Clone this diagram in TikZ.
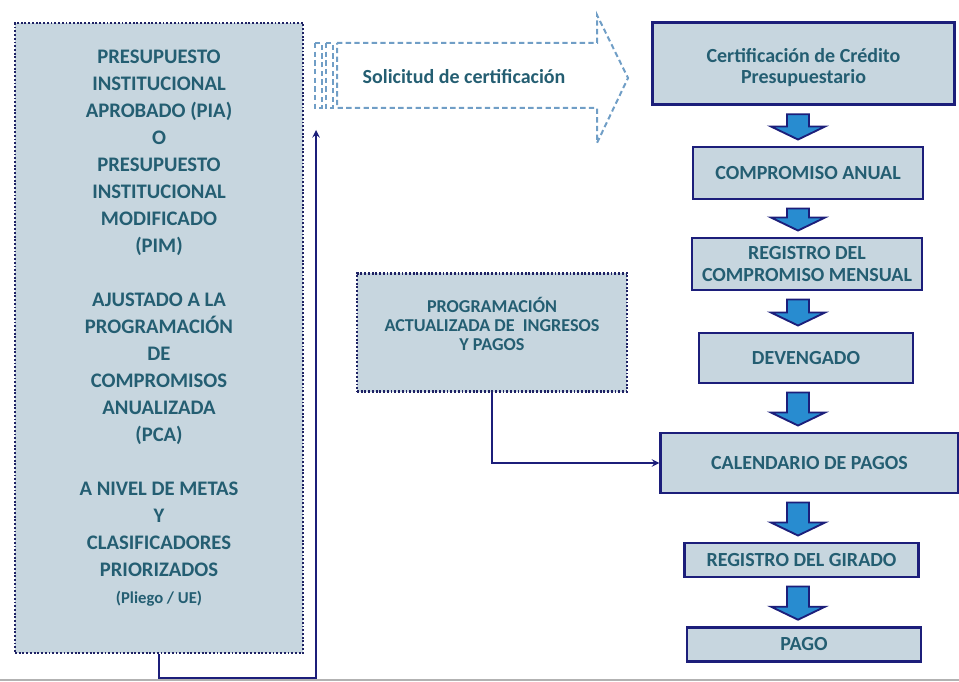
\documentclass[tikz,border=0pt]{standalone}
\usepackage{fontspec}
\setmainfont{Carlito}
\usepackage{xcolor}
\usepackage{tikz}
\usetikzlibrary{arrows,calc}
\definecolor{fondo}{RGB}{199,214,223}
\definecolor{letra}{RGB}{36,94,114}
\definecolor{marino}{RGB}{28,30,122}
\definecolor{punteado}{RGB}{30,34,100}
\definecolor{azulflecha}{RGB}{40,140,208}
\definecolor{guion}{RGB}{112,158,198}
\tikzstyle{cajapunto} = [rectangle, draw=punteado, line width=2.2pt, dash pattern=on 1.4pt off 1.4pt, fill=fondo, text=letra, align=center]
\tikzstyle{paso} = [rectangle, draw=marino, line width=2.2pt, fill=fondo, text=letra, font=\bfseries\fontsize{15}{17}\selectfont, align=center]
\tikzstyle{arrow} = [line width=1.5pt, draw=marino, ->, >=stealth]
\tikzstyle{bloque} = [draw=marino, line width=1.4pt, fill=azulflecha, line join=miter]
\tikzstyle{solic} = [draw=guion, line width=1.5pt, dash pattern=on 4pt off 2.5pt]
\newcommand{\flecha}[2]{%
  \draw[bloque] ($(#1.south -| ac)+(-11,8)$) -- ($(#2.north -| ac)+(-11,-19)$) -- ++(-16,0)
    -- ($(#2.north -| ac)+(0,-6)$) -- ($(#2.north -| ac)+(27,-19)$) -- ++(-16,0)
    -- ($(#1.south -| ac)+(11,8)$) -- cycle;}
\begin{document}
\begin{tikzpicture}[x=0.75pt, y=-0.75pt]
	\useasboundingbox (0,0) rectangle (959,681);
	\coordinate (ac) at (798,0);
	
	\node (p1) [cajapunto, minimum width=216pt, minimum height=472.5pt, font=\bfseries\fontsize{15.5}{20.25}\selectfont] at (159,338) {PRESUPUESTO\\INSTITUCIONAL\\APROBADO (PIA)\\O\\PRESUPUESTO\\INSTITUCIONAL\\MODIFICADO\\(PIM)\\[20.25pt]AJUSTADO A LA\\PROGRAMACIÓN\\DE\\COMPROMISOS\\ANUALIZADA\\(PCA)\\[20.25pt]A NIVEL DE METAS\\Y\\CLASIFICADORES\\PRIORIZADOS\\{\fontsize{12.5}{20.25}\selectfont (Pliego / UE)}\rule[-17pt]{0pt}{0pt}};
	
	\node (p2) [cajapunto, minimum width=202.5pt, minimum height=89pt, font=\bfseries\fontsize{13.6}{14.5}\selectfont] at (492,332.5) {PROGRAMACIÓN\\ACTUALIZADA DE\ \ INGRESOS\\Y PAGOS\rule[-13pt]{0pt}{0pt}};
	
	% flecha de solicitud
	\draw[solic] (337,43) -- (597,43) -- (597,15) -- (628,78) -- (597,143) -- (597,108) -- (337,108) -- cycle;
	\draw[solic] (315,43) rectangle (322,108);
	\draw[solic] (326,43) rectangle (333,108);
	\node (sol) [text=letra, font=\bfseries\fontsize{15}{17}\selectfont] at (464,77) {Solicitud de certificación};
	
	\node (c1) [paso, minimum width=227pt, minimum height=62pt, font=\bfseries\fontsize{15}{16}\selectfont] at (803.5,63.5) {\rule{0pt}{17pt}Certificación de Crédito\\Presupuestario};
	\node (c2) [paso, minimum width=172.5pt, minimum height=39pt] at (808,173) {COMPROMISO ANUAL};
	\node (c3) [paso, minimum width=172.5pt, minimum height=39pt] at (807,264) {REGISTRO DEL\\COMPROMISO MENSUAL};
	\node (c4) [paso, minimum width=160.5pt, minimum height=37.5pt] at (806,358) {DEVENGADO};
	\node (c5) [paso, minimum width=223pt, minimum height=45pt] at (809.5,463) {CALENDARIO DE PAGOS};
	\node (c6) [paso, minimum width=176pt, minimum height=25.5pt] at (801.5,560) {REGISTRO DEL GIRADO};
	\node (c7) [paso, minimum width=175.5pt, minimum height=26pt] at (804,644.5) {PAGO};
	
	\flecha{c1}{c2}
	\flecha{c2}{c3}
	\flecha{c3}{c4}
	\flecha{c4}{c5}
	\flecha{c5}{c6}
	\flecha{c6}{c7}
	
	\coordinate (q) at (316,130);
	\coordinate (qb) at (316,678);
	\draw [arrow] (p1.south) |- (qb) -- (q);
	\draw [arrow] (p2.south) |- (c5.west);
	
	\draw [gray!60, line width=1pt] (0,680) -- (959,680);
	
\end{tikzpicture}
\end{document}
